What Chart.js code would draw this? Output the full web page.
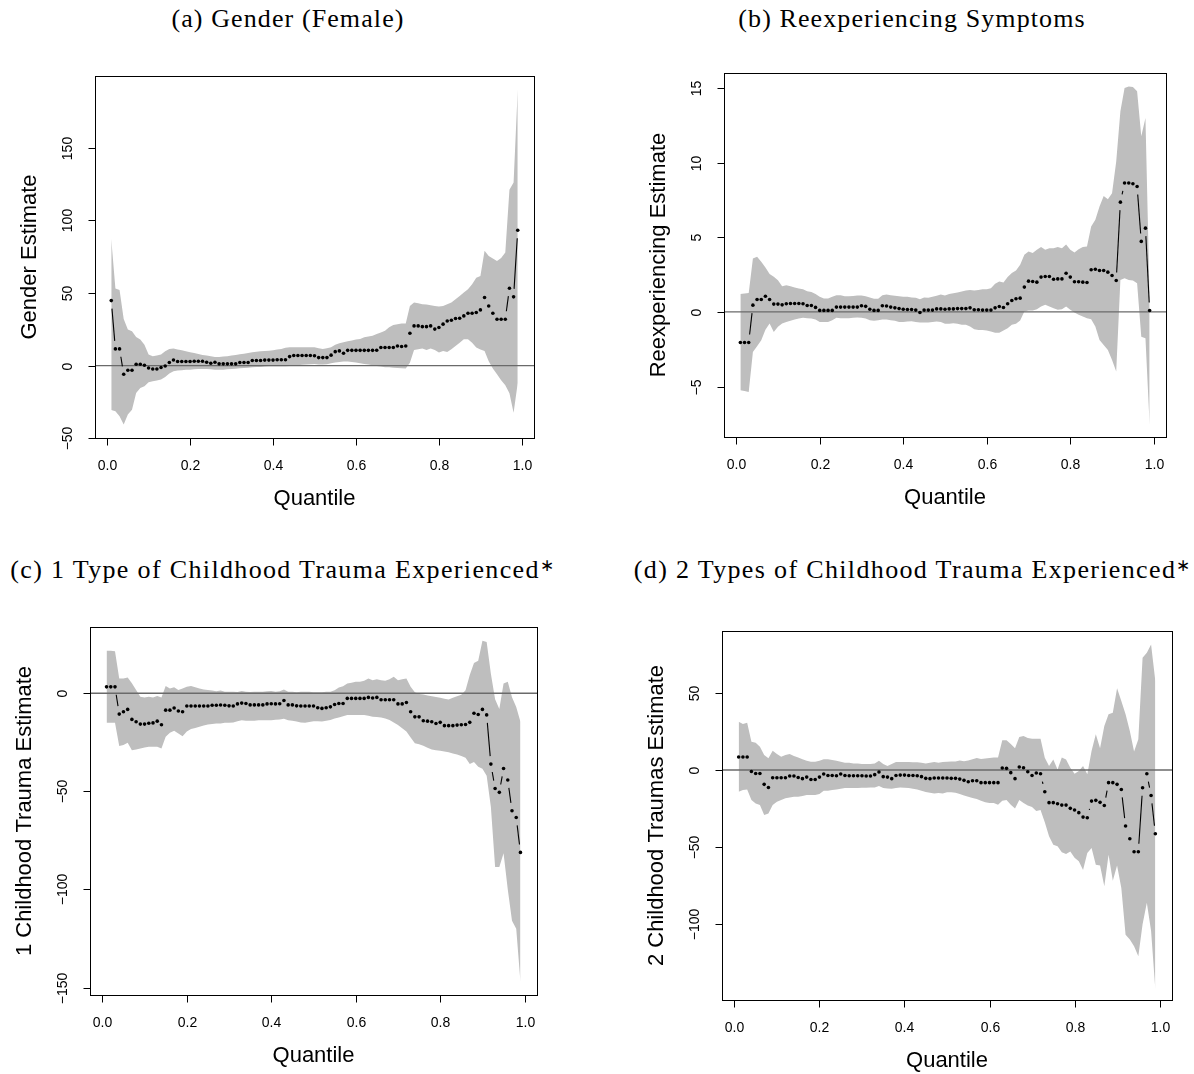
<!DOCTYPE html>
<html><head><meta charset="utf-8">
<script src="https://cdn.jsdelivr.net/npm/chart.js@4.4.1/dist/chart.umd.min.js"></script>
<style>
html,body{margin:0;padding:0;background:#fff}
body{width:1194px;height:1074px;position:relative;overflow:hidden}
.cap{position:absolute;font-family:"Liberation Serif","Times New Roman",serif;font-size:26px;letter-spacing:1.1px;line-height:30px;white-space:nowrap;transform:translateX(-50%);color:#000}
.cap.wide{letter-spacing:1.35px}
.cap sup{font-size:17px;vertical-align:top;position:relative;top:-4px;letter-spacing:0}
.panel{position:absolute;width:597px;height:537px}
</style></head><body>
<div class="cap" style="left:288px;top:4px">(a) Gender (Female)</div>
<div class="cap" style="left:912px;top:4px">(b) Reexperiencing Symptoms</div>
<div class="cap wide" style="left:282px;top:555px">(c) 1 Type of Childhood Trauma Experienced<sup>∗</sup></div>
<div class="cap wide" style="left:912px;top:555px">(d) 2 Types of Childhood Trauma Experienced<sup>∗</sup></div>
<div class="panel" style="left:0;top:0"><canvas id="ca" width="597" height="537"></canvas></div>
<div class="panel" style="left:597px;top:0"><canvas id="cb" width="597" height="537"></canvas></div>
<div class="panel" style="left:0;top:537px"><canvas id="cc" width="597" height="537"></canvas></div>
<div class="panel" style="left:597px;top:537px"><canvas id="cd" width="597" height="537"></canvas></div>
<script>
const quantiles = [0.01,0.02,0.03,0.04,0.05,0.06,0.07,0.08,0.09,0.10,
0.11,0.12,0.13,0.14,0.15,0.16,0.17,0.18,0.19,0.20,
0.21,0.22,0.23,0.24,0.25,0.26,0.27,0.28,0.29,0.30,
0.31,0.32,0.33,0.34,0.35,0.36,0.37,0.38,0.39,0.40,
0.41,0.42,0.43,0.44,0.45,0.46,0.47,0.48,0.49,0.50,
0.51,0.52,0.53,0.54,0.55,0.56,0.57,0.58,0.59,0.60,
0.61,0.62,0.63,0.64,0.65,0.66,0.67,0.68,0.69,0.70,
0.71,0.72,0.73,0.74,0.75,0.76,0.77,0.78,0.79,0.80,
0.81,0.82,0.83,0.84,0.85,0.86,0.87,0.88,0.89,0.90,
0.91,0.92,0.93,0.94,0.95,0.96,0.97,0.98,0.99];
const xTickValues = [0.0,0.2,0.4,0.6,0.8,1.0];

// (a) Gender (Female)
const genderEst = [44.7,11.5,11.5,-6,-3.2,-3.2,0.9,0.9,0.2,-1.6,
-2.3,-2.3,-1.3,-0.3,2.1,3.9,2.8,2.8,2.8,2.8,
3.0,3.0,3.0,2.3,1.6,2.3,1.2,1.2,1.2,1.2,
1.2,2.1,2.1,2.1,3.5,3.5,3.5,3.8,3.8,3.8,
4.0,4.0,4.0,6.2,6.9,6.9,6.9,6.9,6.9,6.8,
5.5,5.5,5.5,7.2,9.6,10.1,8.5,10.5,10.5,10.5,
10.5,10.5,10.5,10.5,10.6,12.4,12.4,12.4,12.4,13.5,
13.1,13.5,22.3,27.3,27.3,26.8,26.8,27.3,25.1,26.2,
28.5,30.7,31.2,32.4,32.6,34.2,36,36,36.5,38.3,
46.8,41,36,31.9,31.9,31.9,53.2,47.3,93.1];
const genderHi = [87,53,52,32,24.8,23.6,19.7,17.9,14.4,7.6,
6.4,6.9,7.6,9.9,11.5,11.7,11,10.5,9.9,9.2,
8.7,8.0,7.3,6.9,6.4,6.0,6.0,6.2,6.4,6.9,
7.3,7.8,8.2,8.7,9.2,9.6,9.9,10.1,10.3,10.5,
11,11.5,12.2,12.6,12.6,12.6,12.6,12.6,12.6,12.6,
11.9,11.5,11.9,12.6,14.3,15.4,16.1,16.7,17.2,17.9,
18.3,19.5,20,20.5,21.7,22.8,24,26.3,27.9,28.5,
29,29,41,43.4,42.9,42.2,42,41.5,41,40.6,
41,42.2,43.4,45.6,47.9,50.2,52.5,56,60.5,61.7,
79,75.4,73.6,72,74,77.8,121,126,190];
const genderLo = [-30.5,-31.4,-34.9,-40.6,-33.7,-30.3,-18.8,-15.4,-14.2,-11.5,
-10.8,-10.2,-9.6,-7.8,-5.5,-3.9,-3.4,-3.2,-2.8,-2.8,
-2.5,-2.3,-2.3,-2.3,-2.5,-2.8,-2.8,-2.8,-2.5,-2.3,
-2.1,-1.8,-1.6,-1.4,-1.1,-0.9,-0.9,-0.7,-0.5,-0.5,
-0.5,-0.5,-0.5,-0.2,0,0.3,0.5,0.8,1.0,1.1,
0.7,0.7,0.9,1.6,2.1,2.5,2.8,2.8,2.5,2.1,
1.6,1.1,0.7,0.2,-0.2,-0.7,-1.1,-1.1,-1.4,-1.6,
-1.8,-2,2,10.8,11.3,11.7,10.8,11.7,10.8,9,
10.1,9.4,11.3,13.5,15.8,18.2,18.2,15.8,12.4,11,
10,3,-2,-6,-10,-13.5,-19,-32.5,-12];
const genderTicks = [-50,0,50,100,150];

// (b) Reexperiencing Symptoms
const reexpEst = [-2.05,-2.05,-2.05,0.45,0.83,0.83,1.05,0.83,0.52,0.52,
0.47,0.54,0.56,0.56,0.56,0.54,0.43,0.43,0.3,0.1,
0.1,0.1,0.1,0.32,0.32,0.32,0.32,0.32,0.32,0.41,
0.37,0.18,0.1,0.1,0.41,0.39,0.32,0.27,0.22,0.18,
0.16,0.16,0.12,-0.04,0.12,0.12,0.12,0.2,0.2,0.18,
0.2,0.2,0.22,0.22,0.22,0.27,0.14,0.14,0.12,0.12,
0.12,0.27,0.36,0.29,0.54,0.76,0.88,0.92,1.66,2.06,
2.04,1.99,2.33,2.37,2.37,2.19,2.21,2.21,2.59,2.33,
2.02,2.02,1.99,1.97,2.82,2.86,2.77,2.77,2.66,2.44,
2.1,7.35,8.63,8.63,8.58,8.4,4.72,5.61,0.09];
const reexpHi = [1.19,1.23,1.27,3.58,3.69,3.36,2.98,2.53,2.35,2.12,
1.72,1.78,1.72,1.63,1.56,1.52,1.39,1.34,1.19,1.01,
0.9,0.9,1.01,1.12,1.12,1.05,1.05,1.07,1.09,1.09,
1.05,0.97,0.88,0.88,1.12,1.16,1.12,1.08,1.05,1.01,
1.01,0.97,0.94,0.85,0.97,0.94,1.01,1.08,1.16,1.1,
1.19,1.25,1.3,1.36,1.43,1.47,1.43,1.47,1.52,1.52,
1.59,1.88,2.04,1.97,2.33,2.6,2.78,3.16,3.83,4.05,
3.94,4.16,4.34,4.16,4.27,4.27,4.34,4.27,4.52,4.16,
3.98,4.2,4.34,4.38,5.72,6.17,7.06,7.77,7.55,7.95,
10.08,13.43,14.99,15.1,15.06,14.77,11.76,12.98,0.9];
const reexpLo = [-5.25,-5.3,-5.37,-2.68,-2.3,-1.9,-1.19,-0.78,-1.34,-1.0,
-0.78,-0.67,-0.6,-0.51,-0.45,-0.4,-0.42,-0.45,-0.51,-0.67,
-0.67,-0.67,-0.56,-0.4,-0.42,-0.42,-0.42,-0.4,-0.38,-0.4,
-0.45,-0.56,-0.6,-0.56,-0.51,-0.51,-0.56,-0.6,-0.67,-0.67,
-0.65,-0.62,-0.67,-0.71,-0.71,-0.71,-0.67,-0.65,-0.67,-0.8,
-0.8,-0.76,-0.8,-0.87,-0.87,-0.98,-1.16,-1.21,-1.21,-1.25,
-1.32,-1.39,-1.39,-1.25,-1.09,-0.87,-0.8,-0.58,0.02,0.09,
0.09,0.18,0.36,0.47,0.36,0.25,0.14,0.18,0.36,0.14,
-0.04,-0.2,-0.31,-0.42,-0.5,-0.98,-1.88,-2.21,-2.55,-3.22,
-3.99,2.14,2.26,2.14,2.1,1.92,-1.66,-1.77,-7.57];
const reexpTicks = [-5,0,5,10,15];

// (c) 1 Type of Childhood Trauma
const trauma1Est = [3.3,3.3,3.3,-10.6,-9.4,-8.2,-13.3,-14.5,-15.7,-15.7,
-15.3,-15.1,-14.2,-16,-8.6,-8.6,-7.5,-9.0,-9.4,-6.5,
-6.5,-6.5,-6.5,-6.5,-6.5,-6.1,-6.1,-6.0,-6.1,-6.4,
-6.5,-5.4,-5.0,-5.2,-5.9,-5.9,-5.9,-5.9,-5.4,-5.3,
-5.4,-5.3,-3.7,-5.9,-5.9,-6.4,-6.5,-6.5,-6.5,-6.5,
-7.4,-7.7,-7.4,-6.9,-5.7,-5.2,-5.2,-2.6,-2.6,-2.6,
-2.6,-2.6,-2.1,-2.4,-2.1,-3.3,-3.3,-3.3,-3.3,-5.4,
-5.4,-4.7,-9.4,-12,-12,-14,-14.2,-14.5,-15.4,-14.8,
-16.5,-16.5,-16.5,-16.2,-16,-15.9,-14.8,-10.2,-10.8,-8.2,
-11,-36.1,-48.5,-50.5,-38.3,-44.2,-59.9,-63.3,-81.1];
const trauma1Hi = [21.7,21.7,21.5,7.5,7.5,8,5.1,1.7,-1.8,-2.2,
-1.8,-2.2,-1.4,-2.2,3.7,2.4,3.1,1.7,2.4,3.3,
3.7,3.1,2.4,1.9,1.7,1.4,1.0,1.4,0.8,0.8,
0.8,0.7,1.2,0.8,0.7,0.8,0.8,0.8,1.0,1.2,
0.8,1.0,1.9,0.8,0.8,0.5,0.8,0.8,0.8,0.6,
0.5,0.5,0.8,0.8,1.6,3.0,3.6,5.0,5.4,5.9,
5.9,6.4,7.5,6.7,7.2,6.7,6.4,7.2,8.4,6.7,
7.2,7.5,3.3,0.5,-0.3,-0.6,-1.1,-1.5,-1.9,-2.3,
-2.8,-3.2,-2.3,-1.5,-0.8,1.6,9.3,15.5,16.6,26.8,
26.2,10,-3,-8,5,5.9,-2,-7,-14.5];
const trauma1Lo = [-15,-15,-15,-26.9,-26.4,-25.2,-29,-28.6,-28.1,-27.6,
-27.3,-27.3,-27.3,-28.1,-22.2,-20.1,-19.1,-20.5,-21.9,-19.5,
-18.2,-17.7,-17.1,-16.4,-15.9,-15.7,-15.4,-15.4,-15,-15,
-14.9,-14.2,-13.7,-14,-14,-14,-13.7,-13.7,-13.7,-13.7,
-13.5,-13.4,-13,-13.7,-14,-14.4,-14.9,-15,-14.6,-14.3,
-14.2,-14.4,-14.0,-13.6,-12.9,-12.3,-11.7,-11.1,-11.1,-11.1,
-11.1,-11.1,-11.5,-11.9,-12.1,-12.3,-12.9,-13.6,-14.9,-16.2,
-17.8,-19.5,-22.5,-25.4,-26,-26.7,-27.7,-28.7,-29,-29.3,
-29.7,-30.1,-30.7,-31.2,-32,-32.9,-36,-35,-37.5,-38.5,
-42,-58,-88.5,-88.5,-81.5,-100,-116,-120,-147];
const trauma1Ticks = [-150,-100,-50,0];

// (d) 2 Types of Childhood Trauma
const trauma2Est = [8.5,8.5,8.5,-0.9,-2.2,-2.2,-9.3,-11.3,-5.0,-5.0,
-5.0,-5.0,-3.9,-3.9,-4.8,-5.6,-4.6,-6.1,-6.1,-4.6,
-2.6,-3.5,-3.5,-3.7,-2.6,-3.5,-3.7,-3.7,-3.7,-3.7,
-3.9,-3.9,-3.0,-1.3,-4.3,-4.6,-5.6,-3.5,-3.3,-3.3,
-3.5,-3.5,-3.7,-4.3,-5.4,-5.6,-5.2,-5.2,-5.2,-5.2,
-5.4,-5.4,-5.9,-6.7,-7.6,-7.0,-7.0,-8.2,-8.2,-8.2,
-8.2,-8.2,1.3,1.1,-1.7,-5.6,2.0,1.5,-1.1,-3.5,
-1.9,-2.4,-14.1,-21.2,-21.2,-21.9,-22.8,-22.8,-24.9,-26,
-27.7,-30.6,-31,-20.2,-19.7,-21,-23,-8.2,-8.2,-9.3,
-12.6,-36.4,-44.7,-53.1,-53.1,-11.5,-2.4,-16.5,-41.4];
const trauma2Hi = [31.4,29.9,30.8,18.4,17.8,15.2,9.8,7.6,12.6,10.4,
8.7,9.8,10.4,9.1,8.2,7.0,6.1,5.4,5.4,6.1,
7.0,7.0,6.5,6.1,5.4,4.8,4.8,4.3,4.3,3.9,
3.9,3.9,4.3,6.1,3.9,2.6,3.9,5.2,5.2,5.2,
5.2,5.0,5.0,4.8,4.3,4.8,5.2,4.8,5.2,5.4,
5.6,5.6,6.2,5.8,6.2,7.0,7.8,7.2,7.5,7.8,
8.2,8.2,19.3,19.3,16.9,14.1,21.5,22.2,20.8,20.4,
20.4,20.4,8,2.6,6.9,0.4,8.2,6.9,1.5,-2.4,
-0.65,2.6,-2.8,12.4,23.2,14.1,28.6,36.2,37.3,53.1,
44.9,36.2,25.4,12,20,73,76.3,81.7,57.9];
const trauma2Lo = [-14.1,-13,-12.6,-19.5,-21.7,-22.8,-29.3,-28.2,-22.8,-20.6,
-19.5,-18.4,-17.8,-17.3,-17.3,-16.9,-16.3,-16.3,-16.3,-15.6,
-13.4,-13.4,-13,-12.6,-12.1,-11.7,-11.7,-11.7,-11.7,-11.5,
-11.5,-11.3,-11.3,-10.4,-11.7,-12.0,-12.1,-11.7,-11.3,-11.5,
-11.7,-12.1,-12.6,-13.4,-14.3,-14.8,-15.2,-15.0,-15.3,-14.5,
-14.5,-14.8,-15.5,-16.5,-17.3,-18.2,-18.8,-20,-21,-21.5,
-21.5,-22.5,-20,-19.5,-22.5,-25,-19.5,-21.5,-23,-24,
-26.7,-26,-34,-43,-48.6,-49.5,-53.5,-54.5,-53,-57,
-59.3,-65,-54,-50.7,-61.5,-62,-75.6,-55,-72,-62,
-76.7,-107,-110.2,-114.5,-121,-100.3,-86.3,-104.7,-142.6];
const trauma2Ticks = [-100,-50,0,50];

const BAND = '#bebebe';
const fmtNum = v => (v < 0 ? '\u2212' + Math.abs(v) : String(v));

const rAxes = {
  id: 'rAxes',
  afterDraw(chart) {
    const o = chart.options.plugins.rAxes;
    const {ctx, chartArea: a} = chart;
    const x = chart.scales.x, y = chart.scales.y;
    ctx.save();
    ctx.strokeStyle = '#000';
    ctx.lineWidth = 1;
    const L = Math.round(a.left), T = Math.round(a.top), R = Math.round(a.right), B = Math.round(a.bottom);
    ctx.strokeRect(L + 0.5, T + 0.5, R - L, B - T);
    ctx.fillStyle = '#000';
    ctx.font = '14px "Liberation Sans", Arial, sans-serif';
    ctx.textAlign = 'center';
    ctx.textBaseline = 'middle';
    o.xTicks.forEach(v => {
      const px = Math.round(x.getPixelForValue(v)) + 0.5;
      ctx.beginPath(); ctx.moveTo(px, B + 0.5); ctx.lineTo(px, B + 7.5); ctx.stroke();
      ctx.fillText(v.toFixed(1), px, B + 28);
    });
    o.yTicks.forEach(v => {
      const py = Math.round(y.getPixelForValue(v)) + 0.5;
      ctx.beginPath(); ctx.moveTo(L + 0.5, py); ctx.lineTo(L - 6.5, py); ctx.stroke();
      ctx.save(); ctx.translate(L - 27, py); ctx.rotate(-Math.PI / 2);
      ctx.fillText(fmtNum(v), 0, 0); ctx.restore();
    });
    ctx.font = '22px "Liberation Sans", Arial, sans-serif';
    ctx.fillText(o.xTitle, (L + R) / 2, B + 61);
    ctx.save(); ctx.translate(L - 65, (T + B) / 2); ctx.rotate(-Math.PI / 2);
    ctx.fillText(o.yTitle, 0, 0); ctx.restore();
    ctx.restore();
  }
};

function segLen(c) { return Math.hypot(c.p1.x - c.p0.x, c.p1.y - c.p0.y); }

function makePanel(id, est, lo, hi, yTicks, yTitle, pad, ymin, ymax) {
  const xmin = -0.0292, xmax = 1.0292;
  const pts = arr => quantiles.map((q, i) => ({x: q, y: arr[i]}));
  new Chart(document.getElementById(id), {
    type: 'line',
    data: {
      datasets: [
        {data: pts(hi), borderWidth: 0, pointRadius: 0, fill: '+1', backgroundColor: BAND, borderColor: BAND, order: 3, tension: 0},
        {data: pts(lo), borderWidth: 0, pointRadius: 0, fill: false, borderColor: BAND, order: 3, tension: 0},
        {data: [{x: xmin, y: 0}, {x: xmax, y: 0}], borderColor: '#6a6a6a', borderWidth: 1.4, pointRadius: 0, fill: false, order: 1},
        {data: pts(est), fill: false, order: 0, tension: 0, borderWidth: 1.1,
         pointRadius: 1.8, pointBackgroundColor: '#000', pointBorderWidth: 0, pointBorderColor: '#000',
         borderColor: '#000',
         segment: {
           borderColor: c => segLen(c) > 16 ? '#000' : 'rgba(0,0,0,0)',
           borderDash: c => { const d = segLen(c); return d > 16 ? [0, 8, d - 16, 2000] : [1, 0]; }
         }}
      ]
    },
    options: {
      responsive: false,
      devicePixelRatio: 1,
      animation: false,
      events: [],
      layout: {padding: pad},
      scales: {
        x: {type: 'linear', min: xmin, max: xmax, display: false},
        y: {type: 'linear', min: ymin, max: ymax, display: false}
      },
      plugins: {
        legend: {display: false},
        tooltip: {enabled: false},
        rAxes: {xTicks: xTickValues, yTicks: yTicks, xTitle: 'Quantile', yTitle: yTitle}
      }
    },
    plugins: [rAxes]
  });
}

makePanel('ca', genderEst, genderLo, genderHi, genderTicks, 'Gender Estimate',
  {left: 95, top: 76, right: 63, bottom: 99}, -49.8, 199.2);
makePanel('cb', reexpEst, reexpLo, reexpHi, reexpTicks, 'Reexperiencing Estimate',
  {left: 127, top: 73, right: 28, bottom: 100}, -8.38, 16.0);
makePanel('cc', trauma1Est, trauma1Lo, trauma1Hi, trauma1Ticks, '1 Childhood Trauma Estimate',
  {left: 90, top: 90, right: 60, bottom: 79}, -153.8, 33.8);
makePanel('cd', trauma2Est, trauma2Lo, trauma2Hi, trauma2Ticks, '2 Childhood Traumas Estimate',
  {left: 125, top: 94, right: 22, bottom: 74}, -149.5, 90.4);
</script>
</body></html>
